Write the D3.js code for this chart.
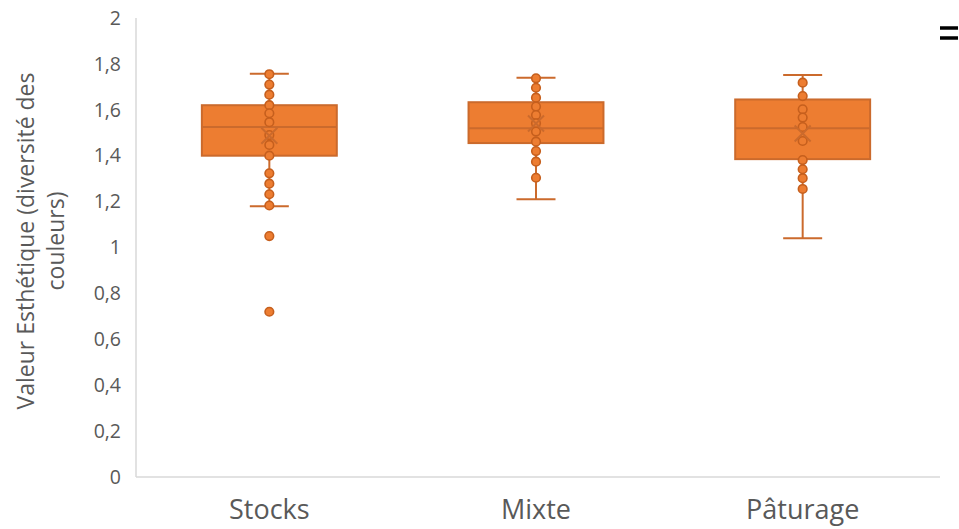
<!DOCTYPE html>
<html><head><meta charset="utf-8">
<script src="https://cdn.jsdelivr.net/npm/d3@7"></script>
<style>html,body{margin:0;padding:0;background:#fff;overflow:hidden}</style>
</head><body><svg id="c" width="959" height="529"></svg>
<script>
const categories = ["Stocks", "Mixte", "Pâturage"];
const q1 = [1.400, 1.455, 1.385];
const medians = [1.525, 1.520, 1.520];
const q3 = [1.620, 1.633, 1.645];
const whiskerLow = [1.180, 1.210, 1.040];
const whiskerHigh = [1.757, 1.740, 1.752];
const means = [1.487, 1.540, 1.497];
const pointsStocks = [1.755, 1.710, 1.666, 1.620, 1.585, 1.546, 1.490, 1.447, 1.400, 1.323, 1.278, 1.232, 1.183, 1.050, 0.720];
const pointsMixte = [1.737, 1.696, 1.653, 1.614, 1.577, 1.541, 1.505, 1.461, 1.420, 1.374, 1.304];
const pointsPaturage = [1.718, 1.660, 1.602, 1.566, 1.525, 1.464, 1.381, 1.341, 1.302, 1.255];
const yTicks = [0, 0.2, 0.4, 0.6, 0.8, 1, 1.2, 1.4, 1.6, 1.8, 2];

const points = [pointsStocks, pointsMixte, pointsPaturage];
const svg = d3.select("#c");
const font = "'Open Sans', sans-serif";
const textCol = "#595959";
const fillCol = "#ED7D31", edgeCol = "#CB6A2C", ptEdge = "#C65F1D";

const x = d3.scaleBand().domain(categories).range([136, 936]);
const y = d3.scaleLinear().domain([0, 2]).range([477, 18]);

// frame
svg.append("line").attr("x1", 136).attr("x2", 136).attr("y1", 18).attr("y2", 477)
  .attr("stroke", "#d9d9d9").attr("stroke-width", 1.5);
svg.append("line").attr("x1", 136).attr("x2", 940).attr("y1", 477).attr("y2", 477)
  .attr("stroke", "#d9d9d9").attr("stroke-width", 1.5);

// y axis
const yAxis = d3.axisLeft(y).tickValues(yTicks).tickSize(0).tickPadding(0)
  .tickFormat(d => String(d).replace(".", ","));
const ya = svg.append("g").attr("transform", "translate(121,0)").call(yAxis);
ya.select(".domain").remove();
ya.selectAll("text").attr("font-family", font).attr("font-size", 19.5).attr("fill", textCol);

// x axis
const xAxis = d3.axisBottom(x).tickSize(0).tickPadding(0);
const xa = svg.append("g").attr("transform", "translate(0,500)").call(xAxis);
xa.select(".domain").remove();
xa.selectAll("text").attr("font-family", font).attr("font-size", 27).attr("fill", textCol).attr("dy", "0.71em");

// y title
const t = svg.append("text").attr("transform", "translate(0,241) rotate(-90)")
  .attr("text-anchor", "middle").attr("font-family", font).attr("font-size", 23).attr("fill", textCol);
t.append("tspan").attr("x", 0).attr("y", 34).text("Valeur Esthétique (diversité des");
t.append("tspan").attr("x", 0).attr("y", 64).text("couleurs)");

const bw = x.bandwidth() * 0.506;
const capW = 39;
categories.forEach((c, i) => {
  const cx = x(c) + x.bandwidth() / 2;
  const g = svg.append("g");
  // whiskers
  g.append("line").attr("x1", cx).attr("x2", cx).attr("y1", y(whiskerHigh[i])).attr("y2", y(q3[i]))
    .attr("stroke", edgeCol).attr("stroke-width", 2);
  g.append("line").attr("x1", cx).attr("x2", cx).attr("y1", y(q1[i])).attr("y2", y(whiskerLow[i]))
    .attr("stroke", edgeCol).attr("stroke-width", 2);
  [whiskerHigh[i], whiskerLow[i]].forEach(v => {
    g.append("line").attr("x1", cx - capW / 2).attr("x2", cx + capW / 2).attr("y1", y(v)).attr("y2", y(v))
      .attr("stroke", edgeCol).attr("stroke-width", 2);
  });
  // box
  g.append("rect").attr("x", cx - bw / 2).attr("width", bw).attr("y", y(q3[i])).attr("height", y(q1[i]) - y(q3[i]))
    .attr("fill", fillCol).attr("stroke", edgeCol).attr("stroke-width", 2);
  g.append("line").attr("x1", cx - bw / 2).attr("x2", cx + bw / 2).attr("y1", y(medians[i])).attr("y2", y(medians[i]))
    .attr("stroke", edgeCol).attr("stroke-width", 2);
  // points
  g.selectAll("circle").data(points[i]).join("circle")
    .attr("cx", cx).attr("cy", d => y(d)).attr("r", 4.3)
    .attr("fill", fillCol).attr("stroke", ptEdge).attr("stroke-width", 1.6);
  // mean X
  const my = y(means[i]), s = 8;
  g.append("path").attr("d", `M${cx - s},${my - s}L${cx + s},${my + s}M${cx - s},${my + s}L${cx + s},${my - s}`)
    .attr("stroke", edgeCol).attr("stroke-width", 2).attr("fill", "none");
});

// clipped legend marker at top right
[28, 38].forEach(yy => {
  svg.append("line").attr("x1", 940).attr("x2", 958).attr("y1", yy).attr("y2", yy)
    .attr("stroke", "#000").attr("stroke-width", 3.5);
});
</script></body></html>
